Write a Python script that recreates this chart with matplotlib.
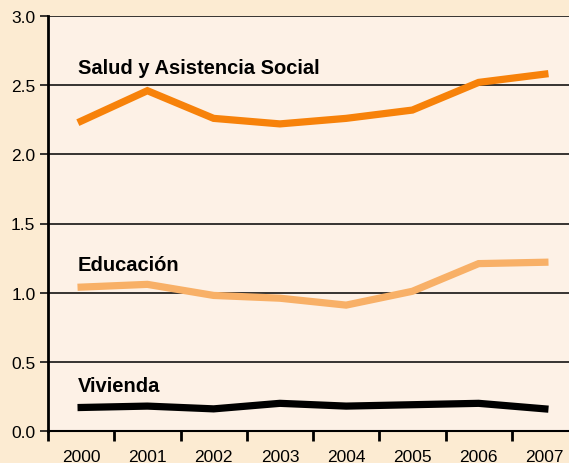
import matplotlib
matplotlib.use("Agg")
from matplotlib import pyplot as plt
import numpy as np

years = ["2000", "2001", "2002", "2003", "2004", "2005", "2006", "2007"]
salud = [2.24, 2.46, 2.26, 2.22, 2.26, 2.32, 2.52, 2.58]
educacion = [1.04, 1.06, 0.98, 0.96, 0.91, 1.01, 1.21, 1.22]
vivienda = [0.17, 0.18, 0.16, 0.20, 0.18, 0.19, 0.20, 0.16]

plt.rcParams['font.family'] = ['Liberation Sans Narrow', 'Liberation Sans', 'DejaVu Sans']

fig = plt.figure(figsize=(5.69, 4.64), dpi=100, facecolor="#FCEBD2")
W, H = 569, 464
left, right, top, bottom = 48, 578, 17, 432
ax = fig.add_axes([left / W, 1 - bottom / H, (right - left) / W, (bottom - top) / H])
ax.set_facecolor("#FDF1E6")

x = np.arange(len(years))
ax.plot(x, salud, color="#F7820A", lw=5.2, solid_joinstyle="miter")
ax.plot(x, educacion, color="#F8B067", lw=5.2, solid_joinstyle="miter")
ax.plot(x, vivienda, color="black", lw=5.2, solid_joinstyle="miter")

ax.set_xlim(-0.5, len(years) - 0.5)
ax.set_ylim(0, 3.0)
ax.set_yticks(np.arange(0, 3.01, 0.5))
ax.set_yticklabels([f"{v:.1f}" for v in np.arange(0, 3.01, 0.5)], fontsize=12.5)
ax.yaxis.grid(True, color="black", lw=1.1)
ax.set_axisbelow(True)

ax.set_xticks(np.arange(-0.5, len(years) - 0.4, 1))
ax.set_xticklabels([])
ax.set_xticks(x, minor=True)
ax.set_xticklabels(years, minor=True, fontsize=12.5)
ax.tick_params(axis="x", which="minor", length=0, pad=13)
ax.tick_params(axis="x", which="major", length=7, width=2, direction="out")
ax.tick_params(axis="y", length=6, width=1.1, pad=3)

for s in ["top", "right"]:
    ax.spines[s].set_visible(False)
ax.spines["left"].set_linewidth(2)
ax.spines["bottom"].set_linewidth(1.5)

ax.text(-0.05, 2.585, "Salud y Asistencia Social", fontsize=14.5, fontweight="bold")
ax.text(-0.05, 1.165, "Educación", fontsize=14.5, fontweight="bold")
ax.text(-0.05, 0.29, "Vivienda", fontsize=14.5, fontweight="bold")

fig.savefig("out.png", dpi=100, facecolor=fig.get_facecolor())
